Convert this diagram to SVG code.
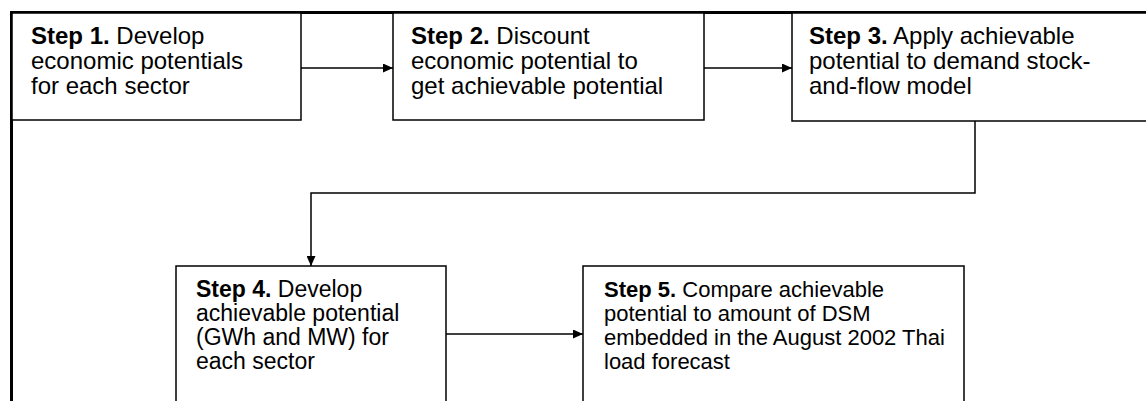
<svg xmlns="http://www.w3.org/2000/svg" width="1146" height="401" viewBox="0 0 1146 401">
<style>
.box{fill:#fff;stroke:#000;stroke-width:1.5}
.frame{fill:none;stroke:#000;stroke-width:3}
.t{font-family:"Liberation Sans",Arial,sans-serif;fill:#000}
.top{font-size:24px}
.s4{font-size:23px}
.s5{font-size:22px}
.b{font-weight:bold}
.c{fill:none;stroke:#000;stroke-width:1.5}
</style>
<defs>
<marker id="ah" viewBox="0 0 10 10" refX="10" refY="5" markerWidth="10" markerHeight="9" markerUnits="userSpaceOnUse" orient="auto" preserveAspectRatio="none">
<path d="M0,0 L10,5 L0,10 Z" fill="#000"/>
</marker>
</defs>
<path class="frame" d="M11.5,401 V12.5 H1146"/>
<g id="connectors">
<line class="c" x1="301" y1="68" x2="393" y2="68" marker-end="url(#ah)"/>
<line class="c" x1="704" y1="68" x2="792" y2="68" marker-end="url(#ah)"/>
<path class="c" d="M975,121 V193 H311 V266" marker-end="url(#ah)"/>
<line class="c" x1="446" y1="334" x2="583" y2="334" marker-end="url(#ah)"/>
</g>
<g id="step1">
<rect class="box" x="12" y="13" width="289" height="107"/>
<text class="t top"><tspan x="31" y="44"><tspan class="b">Step 1.</tspan> Develop</tspan><tspan x="31" y="69">economic potentials</tspan><tspan x="31" y="94">for each sector</tspan></text>
</g>
<g id="step2">
<rect class="box" x="393" y="13" width="311" height="107"/>
<text class="t top"><tspan x="411" y="44"><tspan class="b">Step 2.</tspan> Discount</tspan><tspan x="411" y="69">economic potential to</tspan><tspan x="411" y="94">get achievable potential</tspan></text>
</g>
<g id="step3">
<rect class="box" x="792" y="13" width="360" height="108"/>
<text class="t top"><tspan x="809" y="44"><tspan class="b">Step 3.</tspan> Apply achievable</tspan><tspan x="809" y="69">potential to demand stock-</tspan><tspan x="809" y="94">and-flow model</tspan></text>
</g>
<g id="step4">
<rect class="box" x="176" y="266" width="270" height="140"/>
<text class="t s4"><tspan x="196" y="297"><tspan class="b">Step 4.</tspan> Develop</tspan><tspan x="196" y="321">achievable potential</tspan><tspan x="196" y="345">(GWh and MW) for</tspan><tspan x="196" y="369">each sector</tspan></text>
</g>
<g id="step5">
<rect class="box" x="583" y="266" width="381" height="140"/>
<text class="t s5"><tspan x="604" y="297"><tspan class="b">Step 5.</tspan> Compare achievable</tspan><tspan x="604" y="321">potential to amount of DSM</tspan><tspan x="604" y="345">embedded in the August 2002 Thai</tspan><tspan x="604" y="369">load forecast</tspan></text>
</g>
</svg>
